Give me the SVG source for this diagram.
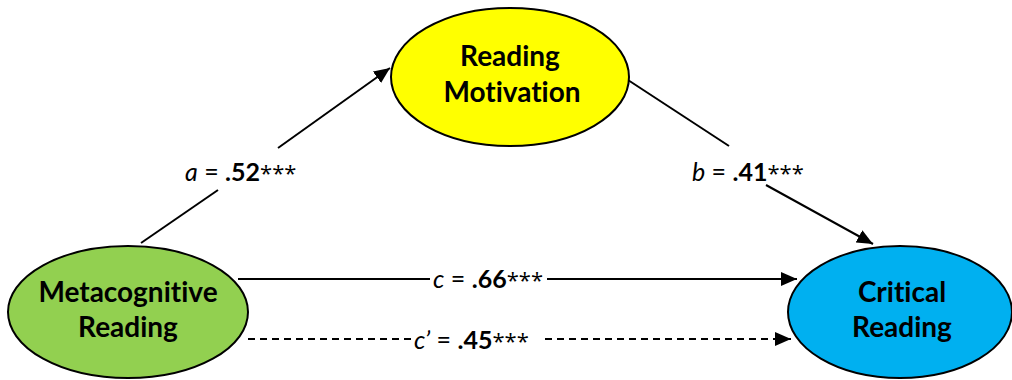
<svg xmlns="http://www.w3.org/2000/svg" width="1012" height="380" viewBox="0 0 1012 380">
<style>
.node{stroke:#000;stroke-width:2}
.nt{font-family:Lato,"Open Sans","Liberation Sans",sans-serif;font-weight:bold;font-size:28px;text-anchor:middle;fill:#000;font-variant-ligatures:none}
.lbl{font-family:Lato,"Open Sans","Liberation Sans",sans-serif;font-size:25px;fill:#000;font-variant-ligatures:none}
.b{font-weight:bold}
.i{font-style:italic}
.s{font-family:"Open Sans","Liberation Sans",sans-serif;font-size:22px}
.c{stroke:#000;stroke-width:2;fill:none}
.d{stroke-dasharray:7,5}
</style>
<defs>
<marker id="arr" markerWidth="16" markerHeight="14" refX="16" refY="7" orient="auto" markerUnits="userSpaceOnUse">
<path d="M0,0 L16,7 L0,14 z" fill="#000"/>
</marker>
</defs>
<rect width="1012" height="380" fill="#fff"/>
<g id="connectors">
<line class="c" x1="141" y1="243" x2="218" y2="190"/>
<line class="c" x1="278" y1="148" x2="390" y2="68" marker-end="url(#arr)"/>
<line class="c" x1="628" y1="80" x2="729" y2="146"/>
<line class="c" x1="766" y1="185" x2="873" y2="244" marker-end="url(#arr)"/>
<line class="c" x1="238" y1="279" x2="430" y2="279"/>
<line class="c" x1="547" y1="279" x2="797" y2="279" marker-end="url(#arr)"/>
<line class="c d" x1="248" y1="339" x2="412" y2="339"/>
<line class="c d" x1="545" y1="339" x2="791" y2="339" marker-end="url(#arr)"/>
<text class="lbl" x="185" y="181"><tspan class="i">a</tspan> = <tspan class="b">.52</tspan><tspan class="s">***</tspan></text>
<text class="lbl" x="692" y="181"><tspan class="i">b</tspan> = <tspan class="b">.41</tspan><tspan class="s">***</tspan></text>
<text class="lbl" x="433" y="288"><tspan class="i">c</tspan> = <tspan class="b">.66</tspan><tspan class="s">***</tspan></text>
<text class="lbl" x="414" y="349"><tspan class="i">c’</tspan> = <tspan class="b">.45</tspan><tspan class="s">***</tspan></text>
</g>
<g id="node-motivation">
<ellipse class="node" cx="510" cy="77" rx="119" ry="69" fill="#ffff00"/>
<text class="nt" x="510" y="66">Reading</text>
<text class="nt" x="512" y="102">Motivation</text>
</g>
<g id="node-metacognitive">
<ellipse class="node" cx="128" cy="312" rx="120" ry="66" fill="#92d050"/>
<text class="nt" x="128" y="302">Metacognitive</text>
<text class="nt" x="128" y="337">Reading</text>
</g>
<g id="node-critical">
<ellipse class="node" cx="900" cy="312" rx="112" ry="66" fill="#00b0f0"/>
<text class="nt" x="902" y="302">Critical</text>
<text class="nt" x="902" y="337">Reading</text>
</g>
</svg>
